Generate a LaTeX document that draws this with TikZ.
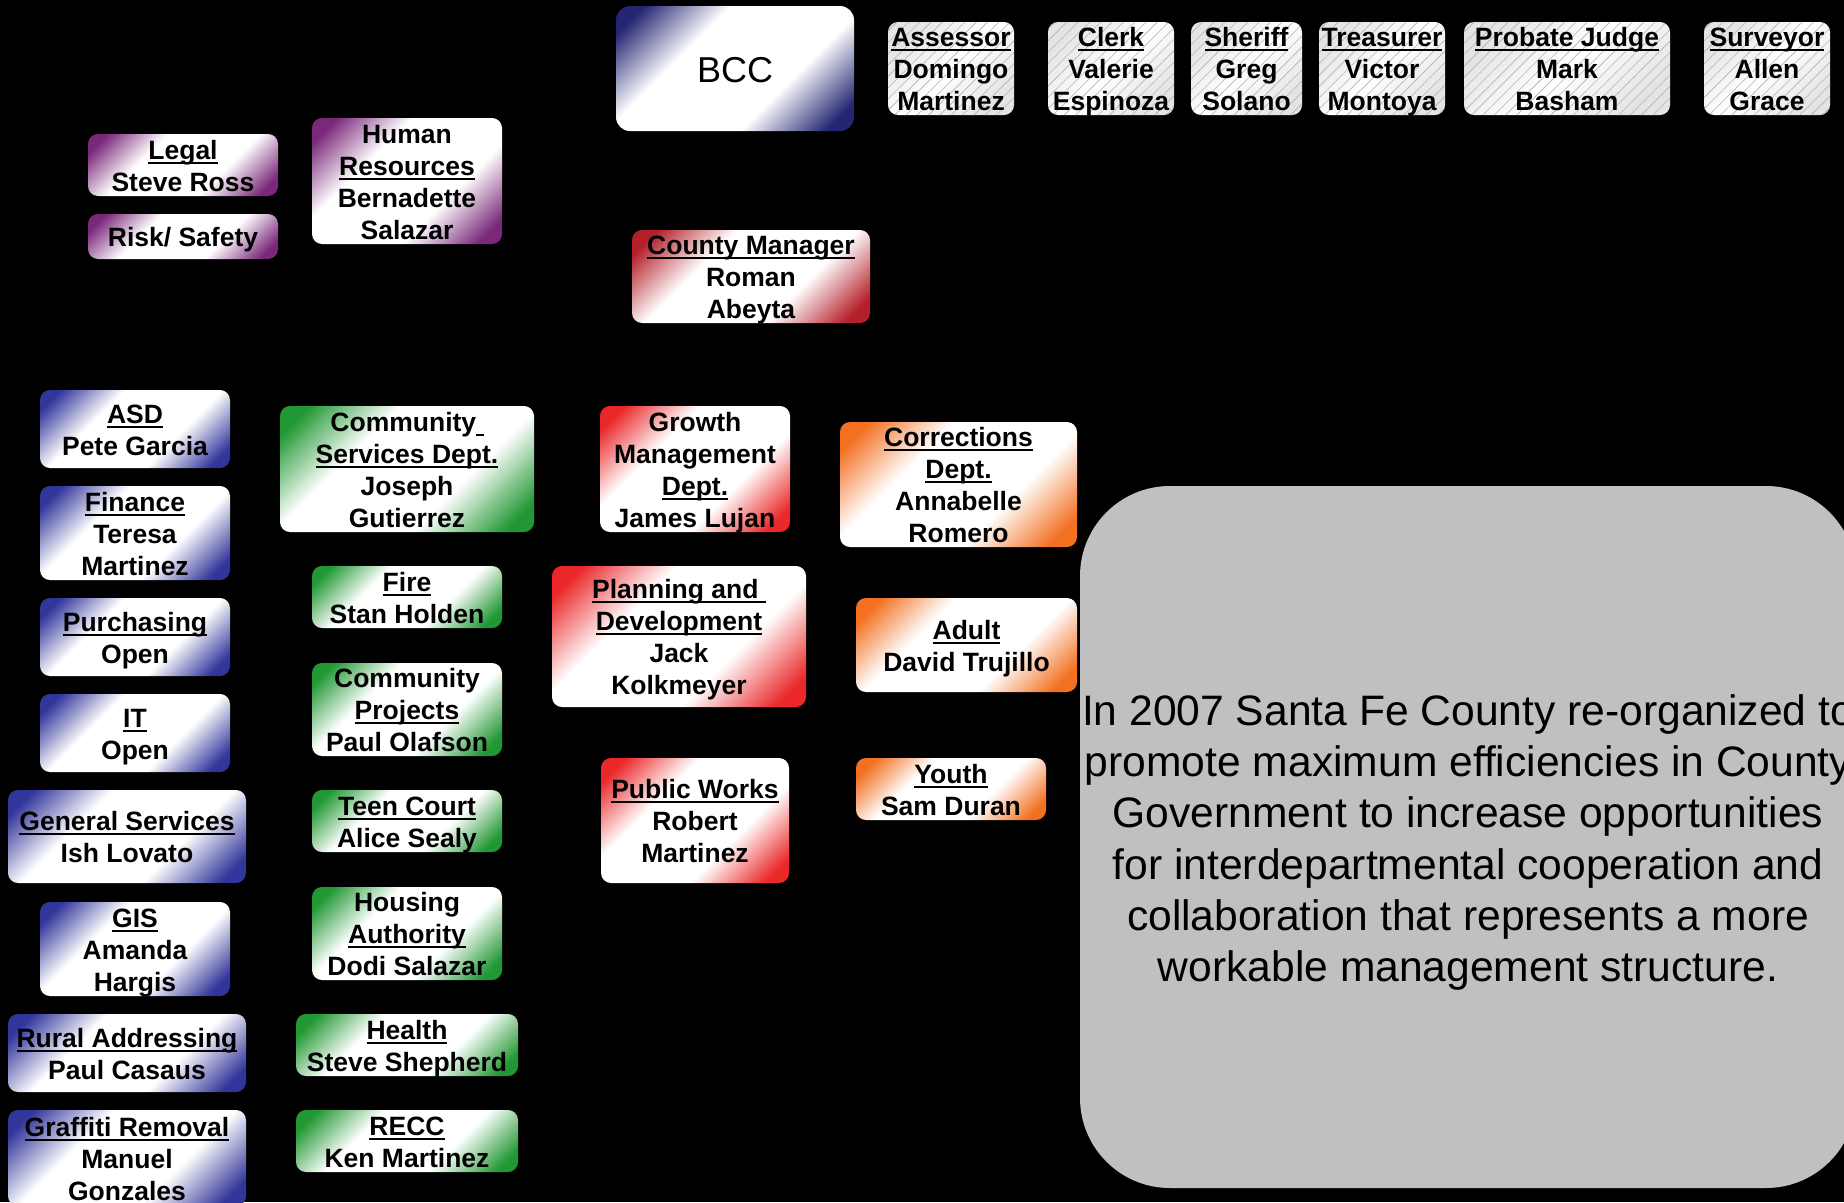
\documentclass[tikz,border=0pt]{standalone}
\usepackage{fontspec}
\setmainfont{Liberation Sans}
\usetikzlibrary{patterns.meta}
\definecolor{cnavy}{RGB}{36,38,115}
\definecolor{cblue}{RGB}{50,54,155}
\definecolor{cpurple}{RGB}{122,40,122}
\definecolor{cdred}{RGB}{180,32,42}
\definecolor{cred}{RGB}{234,40,42}
\definecolor{corange}{RGB}{242,112,32}
\definecolor{cgreen}{RGB}{34,152,52}
\definecolor{cgraybox}{RGB}{191,192,191}
\definecolor{clight}{RGB}{228,228,228}
\pgfdeclarehorizontalshading{shnavy}{100bp}{color(0bp)=(cnavy); color(20bp)=(cnavy); color(37bp)=(white); color(63bp)=(white); color(80bp)=(cnavy); color(100bp)=(cnavy)}
\pgfdeclarehorizontalshading{shblue}{100bp}{color(0bp)=(cblue); color(20bp)=(cblue); color(37bp)=(white); color(63bp)=(white); color(80bp)=(cblue); color(100bp)=(cblue)}
\pgfdeclarehorizontalshading{shpurple}{100bp}{color(0bp)=(cpurple); color(20bp)=(cpurple); color(37bp)=(white); color(63bp)=(white); color(80bp)=(cpurple); color(100bp)=(cpurple)}
\pgfdeclarehorizontalshading{shdred}{100bp}{color(0bp)=(cdred); color(20bp)=(cdred); color(37bp)=(white); color(63bp)=(white); color(80bp)=(cdred); color(100bp)=(cdred)}
\pgfdeclarehorizontalshading{shred}{100bp}{color(0bp)=(cred); color(20bp)=(cred); color(37bp)=(white); color(63bp)=(white); color(80bp)=(cred); color(100bp)=(cred)}
\pgfdeclarehorizontalshading{shorange}{100bp}{color(0bp)=(corange); color(20bp)=(corange); color(37bp)=(white); color(63bp)=(white); color(80bp)=(corange); color(100bp)=(corange)}
\pgfdeclarehorizontalshading{shgreen}{100bp}{color(0bp)=(cgreen); color(20bp)=(cgreen); color(37bp)=(white); color(63bp)=(white); color(80bp)=(cgreen); color(100bp)=(cgreen)}
\pgfdeclarehorizontalshading{shlight}{100bp}{color(0bp)=(clight); color(25bp)=(clight); color(50bp)=(white); color(75bp)=(clight); color(100bp)=(clight)}
\newcommand\ulx[1]{\leavevmode\setbox0\hbox{#1}\rlap{\vrule height -2.6pt depth 4.6pt width \wd0}\box0}
\newcommand\tst{\rule{0pt}{26.5pt}}
\newcommand\bst{\rule[-6pt]{0pt}{6pt}}
\tikzset{
  orgbox/.style={rounded corners=10pt, inner xsep=0pt, inner ysep=-25pt, align=center, text=black,
    font=\fontsize{26.5}{32}\selectfont\bfseries, shading angle=-45},
  navybox/.style={orgbox, shading=shnavy, rounded corners=14pt},
  bluebox/.style={orgbox, shading=shblue},
  purplebox/.style={orgbox, shading=shpurple},
  dredbox/.style={orgbox, shading=shdred},
  redbox/.style={orgbox, shading=shred},
  orangebox/.style={orgbox, shading=shorange},
  greenbox/.style={orgbox, shading=shgreen},
  hatchbox/.style={orgbox, shading=shlight, postaction={pattern={Lines[angle=45,distance=8pt,line width=0.6pt]}, pattern color=gray!60}},
  dims/.style 2 args={minimum width=#1pt, minimum height=#2pt}
}
\begin{document}
\begin{tikzpicture}[x=1pt,y=-1pt]
\useasboundingbox (0,0) rectangle (1844,1202);
\clip (0,0) rectangle (1844,1202);
\fill[black] (0,0) rectangle (1844,1202);

% top row
\node[navybox, dims={238}{125}, font=\fontsize{36}{42}\selectfont] (bcc) at (735,68.5) {\rule{0pt}{35pt}BCC\rule[-8pt]{0pt}{8pt}};
\node[hatchbox, dims={126}{93}] (assessor) at (951,68.5) {\tst\ulx{Assessor}\\Domingo\\Martinez\bst};
\node[hatchbox, dims={126}{93}] (clerk) at (1111,68.5) {\tst\ulx{Clerk}\\Valerie\\Espinoza\bst};
\node[hatchbox, dims={111}{93}] (sheriff) at (1246.5,68.5) {\tst\ulx{Sheriff}\\Greg\\Solano\bst};
\node[hatchbox, dims={126}{93}] (treasurer) at (1382,68.5) {\tst\ulx{Treasurer}\\Victor\\Montoya\bst};
\node[hatchbox, dims={206}{93}] (probate) at (1567,68.5) {\tst\ulx{Probate Judge}\\Mark\\Basham\bst};
\node[hatchbox, dims={126}{93}] (surveyor) at (1767,68.5) {\tst\ulx{Surveyor}\\Allen\\Grace\bst};

% purple
\node[purplebox, dims={190}{62}] (legal) at (183,165) {\tst\ulx{Legal}\\Steve Ross\bst};
\node[purplebox, dims={190}{45}] (risk) at (183,236.5) {\tst Risk/ Safety\bst};
\node[purplebox, dims={190}{126}] (hr) at (407,181) {\tst Human\\\ulx{Resources}\\Bernadette\\Salazar\bst};

% county manager
\node[dredbox, dims={238}{93}] (cm) at (751,276.5) {\tst\ulx{County Manager}\\Roman\\Abeyta\bst};

% blue column
\node[bluebox, dims={190}{78}] (asd) at (135,429) {\tst\ulx{ASD}\\Pete Garcia\bst};
\node[bluebox, dims={190}{94}] (finance) at (135,533) {\tst\ulx{Finance}\\Teresa\\Martinez\bst};
\node[bluebox, dims={190}{78}] (purch) at (135,637) {\tst\ulx{Purchasing}\\Open\bst};
\node[bluebox, dims={190}{78}] (it) at (135,733) {\tst\ulx{IT}\\Open\bst};
\node[bluebox, dims={238}{93}] (gensvc) at (127,836.5) {\tst\ulx{General Services}\\Ish Lovato\bst};
\node[bluebox, dims={190}{94}] (gis) at (135,949) {\tst\ulx{GIS}\\Amanda\\Hargis\bst};
\node[bluebox, dims={238}{78}] (rural) at (127,1053) {\tst\ulx{Rural Addressing}\\Paul Casaus\bst};
\node[bluebox, dims={238}{96}] (graffiti) at (127,1158) {\tst\ulx{Graffiti Removal}\\Manuel\\Gonzales\bst};

% green column
\node[greenbox, dims={254}{126}] (commsvc) at (407,469) {\tst Community\ulx{\ }\\\ulx{Services Dept.}\\Joseph\\Gutierrez\bst};
\node[greenbox, dims={190}{62}] (fire) at (407,597) {\tst\ulx{Fire}\\Stan Holden\bst};
\node[greenbox, dims={190}{93}] (commproj) at (407,709.5) {\tst Community\\\ulx{Projects}\\Paul Olafson\bst};
\node[greenbox, dims={190}{62}] (teen) at (407,821) {\tst\ulx{Teen Court}\\Alice Sealy\bst};
\node[greenbox, dims={190}{93}] (housing) at (407,933.5) {\tst Housing\\\ulx{Authority}\\Dodi Salazar\bst};
\node[greenbox, dims={222}{62}] (health) at (407,1045) {\tst\ulx{Health}\\Steve Shepherd\bst};
\node[greenbox, dims={222}{62}] (recc) at (407,1141) {\tst\ulx{RECC}\\Ken Martinez\bst};

% red column
\node[redbox, dims={190}{126}] (growth) at (695,469) {\tst Growth\\Management\\\ulx{Dept.}\\James Lujan\bst};
\node[redbox, dims={254}{141}] (planning) at (679,636.5) {\tst\ulx{Planning and\ }\\\ulx{Development}\\Jack\\Kolkmeyer\bst};
\node[redbox, dims={188}{125}] (pubworks) at (695,820.5) {\tst\ulx{Public Works}\\Robert\\Martinez\bst};

% orange column
\node[orangebox, dims={237}{125}] (corrections) at (958.5,484.5) {\tst\ulx{Corrections}\\\ulx{Dept.}\\Annabelle\\Romero\bst};
\node[orangebox, dims={221}{94}] (adult) at (966.5,645) {\tst\ulx{Adult}\\David Trujillo\bst};
\node[orangebox, dims={190}{62}] (youth) at (951,789) {\tst\ulx{Youth}\\Sam Duran\bst};

% grey statement box
\fill[cgraybox, rounded corners=90pt] (1080,486) rectangle (1856,1188);
\node[align=center, inner sep=0pt, font=\fontsize{42.6}{51.3}\selectfont] (statement) at (1468,838)
 {\rule{0pt}{40pt}In 2007 Santa Fe County re-organized to\\promote maximum efficiencies in County\\Government to increase opportunities\\for interdepartmental cooperation and\\collaboration that represents a more\\workable management structure.\rule[-9pt]{0pt}{9pt}};
\end{tikzpicture}
\end{document}
